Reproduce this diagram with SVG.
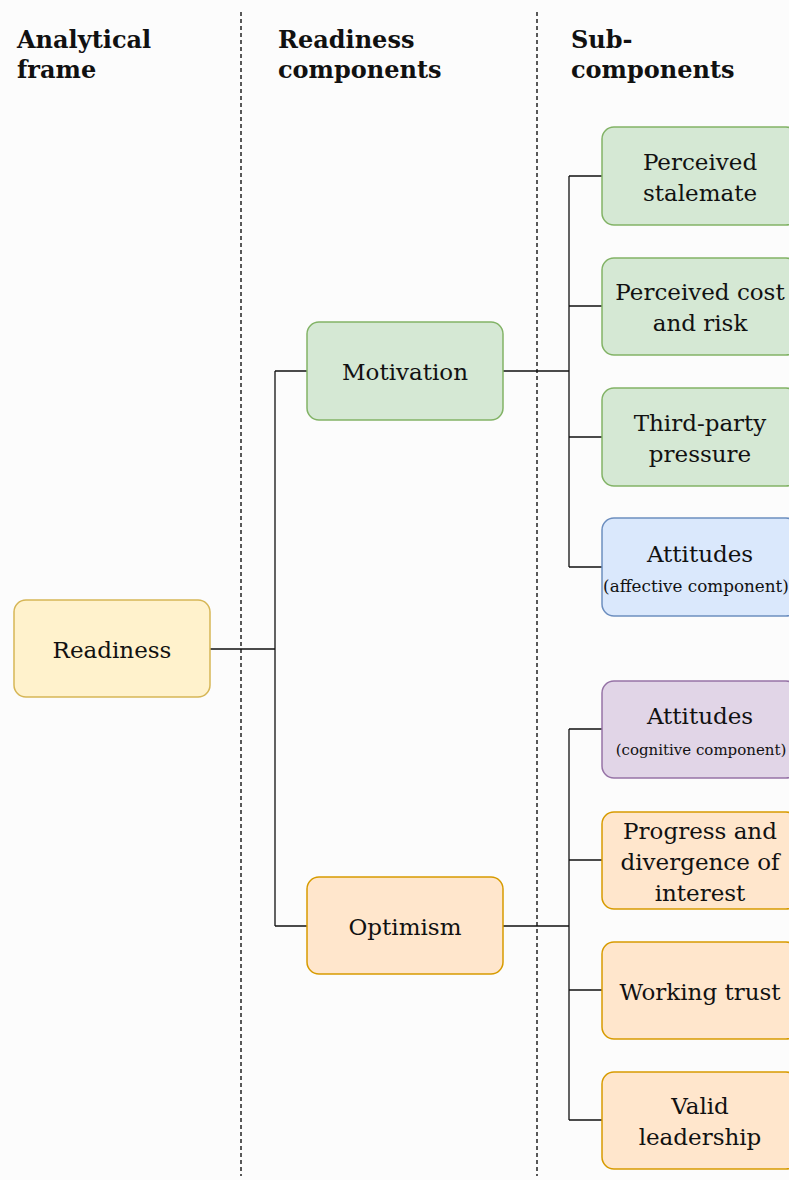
<svg xmlns="http://www.w3.org/2000/svg" width="789" height="1180" viewBox="0 0 789 1180">
<style>
.bg{fill:#fcfcfc}
.div{stroke:#222;stroke-width:1.5;stroke-dasharray:4 3;fill:none}
.con{stroke:#111;stroke-width:1.3;fill:none}
.box{stroke-width:1.5}
.green{fill:#d5e8d4;stroke:#82b366}
.blue{fill:#dae8fc;stroke:#6c8ebf}
.purple{fill:#e1d5e7;stroke:#9673a6}
.orange{fill:#ffe6cc;stroke:#d79b00}
.yellow{fill:#fff2cc;stroke:#d6b656}
.t{font-family:"DejaVu Serif",serif;font-size:23px;fill:#111;text-anchor:middle}
.s{font-family:"DejaVu Serif",serif;font-size:16.8px;fill:#111;text-anchor:middle}
.s2{font-family:"DejaVu Serif",serif;font-size:15px;fill:#111;text-anchor:middle}
.h{font-family:"DejaVu Serif",serif;font-size:24px;font-weight:bold;fill:#111}
</style>
<rect class="bg" x="0" y="0" width="789" height="1180"/>
<g id="dividers">
<line class="div" x1="241" y1="12" x2="241" y2="1176"/>
<line class="div" x1="537" y1="12" x2="537" y2="1176"/>
</g>
<g id="headers">
<text class="h" x="17" y="48">Analytical</text>
<text class="h" x="17" y="78">frame</text>
<text class="h" x="278" y="48">Readiness</text>
<text class="h" x="278" y="78">components</text>
<text class="h" x="571" y="48">Sub-</text>
<text class="h" x="571" y="78">components</text>
</g>
<g id="connectors">
<path class="con" d="M210 649H275M275 371V926M275 371H307M275 926H307"/>
<path class="con" d="M503 371H569M569 176V567M569 176H602M569 306H602M569 437H602M569 567H602"/>
<path class="con" d="M503 926H569M569 729V1120M569 729H602M569 860H602M569 990H602M569 1120H602"/>
</g>
<g id="readiness"><rect class="box yellow" x="14" y="600" width="196" height="97" rx="12"/><text class="t" x="112" y="658">Readiness</text></g>
<g id="motivation"><rect class="box green" x="307" y="322" width="196" height="98" rx="12"/><text class="t" x="405" y="380">Motivation</text></g>
<g id="optimism"><rect class="box orange" x="307" y="877" width="196" height="97" rx="12"/><text class="t" x="405" y="935">Optimism</text></g>
<g id="stalemate"><rect class="box green" x="602" y="127" width="196" height="98" rx="12"/><text class="t" x="700" y="170">Perceived</text><text class="t" x="700" y="201">stalemate</text></g>
<g id="costrisk"><rect class="box green" x="602" y="258" width="196" height="97" rx="12"/><text class="t" x="700" y="300">Perceived cost</text><text class="t" x="700" y="331">and risk</text></g>
<g id="thirdparty"><rect class="box green" x="602" y="388" width="196" height="98" rx="12"/><text class="t" x="700" y="431">Third-party</text><text class="t" x="700" y="462">pressure</text></g>
<g id="attitudes-affective"><rect class="box blue" x="602" y="518" width="196" height="98" rx="12"/><text class="t" x="700" y="562">Attitudes</text><text class="s" x="696" y="592">(affective component)</text></g>
<g id="attitudes-cognitive"><rect class="box purple" x="602" y="681" width="196" height="97" rx="12"/><text class="t" x="700" y="724">Attitudes</text><text class="s2" x="701" y="755">(cognitive component)</text></g>
<g id="progress"><rect class="box orange" x="602" y="812" width="196" height="97" rx="12"/><text class="t" x="700" y="839">Progress and</text><text class="t" x="700" y="870">divergence of</text><text class="t" x="700" y="901">interest</text></g>
<g id="trust"><rect class="box orange" x="602" y="942" width="196" height="97" rx="12"/><text class="t" x="700" y="1000">Working trust</text></g>
<g id="leadership"><rect class="box orange" x="602" y="1072" width="196" height="97" rx="12"/><text class="t" x="700" y="1114">Valid</text><text class="t" x="700" y="1145">leadership</text></g>
</svg>
